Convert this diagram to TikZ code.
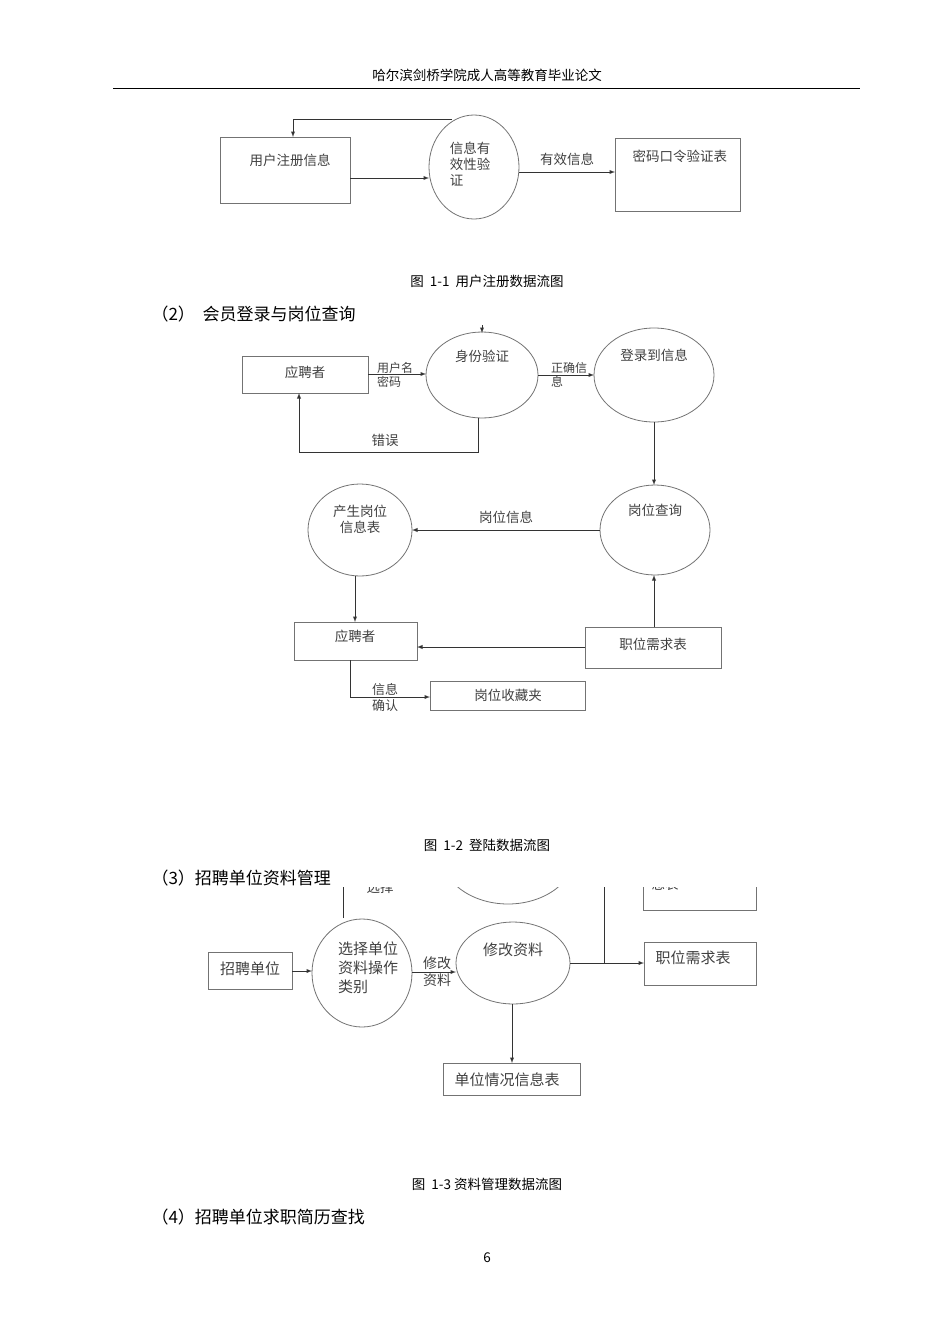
\documentclass[tikz,border=0pt]{standalone}
\usepackage{fontspec}
\setmainfont{Liberation Serif}
\newfontfamily\cjk{Noto Sans CJK SC}
\usetikzlibrary{positioning}

\tikzset{
  box/.style={draw=black!55, line width=0.8pt},
  proc/.style={draw=black!55, line width=0.8pt},
  flow/.style={draw=black!80, line width=0.9pt, -latex},
  lbl/.style={font=\cjk\fontsize{12}{13.5}\selectfont, text=black!75, align=left, inner sep=1pt},
  txt/.style={font=\cjk\fontsize{13.5}{16}\selectfont, text=black!75, align=center},
  capt/.style={font=\cjk\fontsize{13.5}{15}\selectfont},
  sect/.style={font=\cjk\fontsize{17}{18}\selectfont, anchor=west}
}

\begin{document}
\begin{tikzpicture}[x=1pt, y=-1pt]
\useasboundingbox (0,0) rectangle (950,1344);

% header
\node[capt] (head) at (487,75) {哈尔滨剑桥学院成人高等教育毕业论文};
\draw[line width=0.6pt] (113,88) -- (860,88);

% fig 1-1
\draw[box] (220,137) rectangle (350,203);
\node[txt, anchor=west] (reg) at (246,160) {用户注册信息};
\draw[proc] (474,167) ellipse (45 and 52);
\node[txt, align=left] (chk) at (470,164) {信息有\\效性验\\证};
\draw[box] (615,138) rectangle (740,211);
\node[txt, anchor=west] (pwd) at (629,156) {密码口令验证表};
\coordinate (regR) at (350,178);
\coordinate (chkL) at (429,178);
\coordinate (chkR) at (519,172);
\coordinate (pwdL) at (615,172);
\draw[flow] (regR) -- (chkL);
\draw[flow] (chkR) -- node[lbl, font=\cjk\fontsize{13.5}{15}\selectfont, above=5pt] {有效信息} (pwdL);
\coordinate (chkT) at (452,119);
\coordinate (regT) at (293,137);
\draw[flow] (chkT) -- (293,119) -- (regT);
\node[capt] (cap1) at (487,281) {图~~1-1~~用户注册数据流图};
\node[sect] (s2) at (148,314) {（2）~~会员登录与岗位查询};

% fig 1-2
\draw[box] (242,356) rectangle (368,393);
\node[txt] (yp1) at (305,372) {应聘者};
\draw[proc] (482,375) ellipse (56 and 43);
\node[txt] (sf) at (482,356) {身份验证};
\draw[proc] (654,375) ellipse (60 and 47);
\node[txt] (dl) at (654,355) {登录到信息};
\draw[flow] (482,325) -- (482,333);
\draw[flow] (368,374) -- (426,374);
\node[lbl] (ym) at (395,375) {用户名\\密码};
\draw[flow] (538,375) -- (594,375);
\node[lbl] (zq) at (569,375) {正确信\\息};
\draw[flow] (478,418) -- (478,452) -- (299,452) -- (299,393);
\node[txt] (cw) at (385,440) {错误};
\draw[proc] (655,530) ellipse (55 and 45);
\node[txt] (gw) at (655,510) {岗位查询};
\draw[flow] (654,422) -- (654,485);
\draw[proc] (360,530) ellipse (52 and 46);
\node[txt] (cs) at (360,519) {产生岗位\\信息表};
\draw[flow] (600,530) -- node[lbl, font=\cjk\fontsize{13.5}{15}\selectfont, above=5pt] {岗位信息} (412,530);
\draw[box] (294,622) rectangle (417,660);
\node[txt] (yp2) at (355,636) {应聘者};
\draw[flow] (355,576) -- (355,622);
\draw[box] (585,627) rectangle (721,668);
\node[txt] (zw1) at (653,644) {职位需求表};
\draw[flow] (585,647) -- (417,647);
\draw[flow] (654,627) -- (654,575);
\draw[box] (430,681) rectangle (585,710);
\node[txt] (sc) at (508,695) {岗位收藏夹};
\draw[flow] (350,660) -- (350,697) -- (430,697);
\node[lbl, font=\cjk\fontsize{13}{16}\selectfont] (qr) at (385,697) {信息\\确认};
\node[capt] (cap2) at (487,845) {图~~1-2~~登陆数据流图};
\node[sect] (s3) at (148,878) {（3）招聘单位资料管理};

% fig 1-3, cut at top
\begin{scope}
\clip (0,887) rectangle (950,1344);
\draw[proc] (508,852) ellipse (68 and 52);
\draw[box] (643,840) rectangle (756,910);
\node[txt] (xt) at (665,884) {息表};
\node[txt] (xz) at (380,887) {选择};
\draw[line width=0.9pt, black!80] (343,918) -- (343,880);
\draw[line width=0.9pt, black!80] (604,963) -- (604,880);
\end{scope}
\draw[box] (208,952) rectangle (292,989);
\node[txt, font=\cjk\fontsize{15}{17}\selectfont] (zp) at (250,969) {招聘单位};
\draw[proc] (362,973) ellipse (50 and 54);
\node[font=\cjk\fontsize{15}{19}\selectfont, text=black!75, align=left] (xzlb) at (368,968) {选择单位\\资料操作\\类别};
\draw[proc] (513,963) ellipse (57 and 41);
\node[txt, font=\cjk\fontsize{15}{17}\selectfont] (xg) at (513,950) {修改资料};
\draw[box] (644,942) rectangle (756,985);
\node[txt, font=\cjk\fontsize{15}{17}\selectfont] (zw2) at (693,958) {职位需求表};
\draw[box] (443,1063) rectangle (580,1095);
\node[txt, font=\cjk\fontsize{15}{17}\selectfont] (dw) at (507,1080) {单位情况信息表};
\draw[flow] (292,971) -- (312,971);
\draw[flow] (412,972) -- (456,972);
\node[font=\cjk\fontsize{14}{17}\selectfont, text=black!75, align=left, inner sep=0pt] (xgzl) at (437,972) {修改\\资料};
\draw[flow] (570,963) -- (644,963);
\draw[flow] (512,1004) -- (512,1063);
\node[capt] (cap3) at (487,1184) {图~~1-3~资料管理数据流图};
\node[sect] (s4) at (148,1217) {（4）招聘单位求职简历查找};
\node[capt] (pg) at (487,1258) {6};
\end{tikzpicture}
\end{document}
